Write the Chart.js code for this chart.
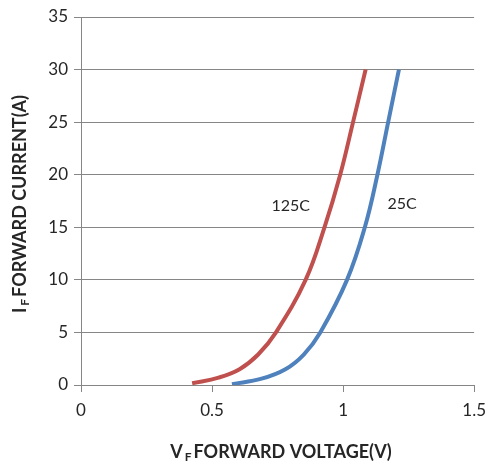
<!DOCTYPE html>
<html>
<head>
<meta charset="utf-8">
<script src="https://cdn.jsdelivr.net/npm/chart.js@4/dist/chart.umd.min.js"></script>
<style>
  html, body { margin: 0; padding: 0; background: #fff; }
  #wrap { width: 494px; height: 464px; }
</style>
</head>
<body>
<div id="wrap"><canvas id="chart" width="494" height="464"></canvas></div>
<script>
// forward voltage (V) / forward current (A)
const voltage125 = [0.424, 0.525, 0.605, 0.676, 0.744, 0.857, 0.929, 0.989, 1.038, 1.086];
const current125 = [0.16, 0.7, 1.5, 2.9, 5, 10, 15, 20, 25, 30];
const voltage25 = [0.576, 0.689, 0.780, 0.850, 0.913, 1.015, 1.083, 1.131, 1.172, 1.213];
const current25 = [0.08, 0.6, 1.5, 2.9, 5, 10, 15, 20, 25, 30];
const curveLabels = ["125C", "25C"];
const xTicks = [0, 0.5, 1, 1.5];
const yTicks = [0, 5, 10, 15, 20, 25, 30, 35];

const fontFamily = "Lato, 'Open Sans', sans-serif";
const textColor = "#262626";

function toPoints(xs, ys) {
  return xs.map((x, i) => ({ x: x, y: ys[i] }));
}

// axis titles with the subscript F, plus the curve labels
const annotations = {
  id: "annotations",
  afterDraw(chart) {
    const ctx = chart.ctx;
    const xs = chart.scales.x;
    const ys = chart.scales.y;
    ctx.save();
    ctx.fillStyle = textColor;
    ctx.textBaseline = "middle";

    // curve labels
    ctx.font = "16px " + fontFamily;
    ctx.textAlign = "center";
    ctx.fillText(curveLabels[0], xs.getPixelForValue(0.80), ys.getPixelForValue(17));
    ctx.fillText(curveLabels[1], xs.getPixelForValue(1.225), ys.getPixelForValue(17.2));

    function drawSubTitle(main, sub, rest, cx, cy) {
      const big = "bold 18px " + fontFamily;
      const small = "bold 12px " + fontFamily;
      ctx.font = big;
      const w1 = ctx.measureText(main).width;
      const w3 = ctx.measureText(rest).width;
      ctx.font = small;
      const w2 = ctx.measureText(sub).width;
      let x = cx - (w1 + w2 + 4 + w3) / 2;
      ctx.textAlign = "left";
      ctx.font = big;
      ctx.fillText(main, x, cy);
      x += w1 + 2;
      ctx.font = small;
      ctx.fillText(sub, x, cy + 5);
      x += w2 + 2;
      ctx.font = big;
      ctx.fillText(rest, x, cy);
    }

    drawSubTitle("V", "F", "FORWARD VOLTAGE(V)", 281, 452);

    ctx.translate(20, 204);
    ctx.rotate(-Math.PI / 2);
    drawSubTitle("I", "F", "FORWARD CURRENT(A)", 0, 0);
    ctx.restore();
  }
};

new Chart(document.getElementById("chart"), {
  type: "scatter",
  data: {
    datasets: [
      {
        label: curveLabels[0],
        data: toPoints(voltage125, current125),
        showLine: true,
        borderColor: "#C0504D",
        borderWidth: 4,
        pointRadius: 0,
        tension: 0.4
      },
      {
        label: curveLabels[1],
        data: toPoints(voltage25, current25),
        showLine: true,
        borderColor: "#4F81BD",
        borderWidth: 4,
        pointRadius: 0,
        tension: 0.4
      }
    ]
  },
  options: {
    responsive: false,
    animation: false,
    layout: { padding: { top: 17, right: 16, left: 0, bottom: 0 } },
    plugins: {
      legend: { display: false },
      tooltip: { enabled: false }
    },
    scales: {
      x: {
        type: "linear",
        min: 0,
        max: 1.5,
        afterBuildTicks: (scale) => { scale.ticks = xTicks.map(v => ({ value: v })); },
        afterFit: (scale) => { scale.height = 79; },
        grid: { drawOnChartArea: false, drawTicks: true, tickLength: 7, color: "#868686" },
        border: { color: "#868686", width: 1 },
        ticks: {
          color: textColor,
          font: { family: fontFamily, size: 17 },
          padding: 8,
          maxRotation: 0,
          callback: (value) => String(value)
        }
      },
      y: {
        type: "linear",
        min: 0,
        max: 35,
        afterBuildTicks: (scale) => { scale.ticks = yTicks.map(v => ({ value: v })); },
        afterFit: (scale) => { scale.width = 81; },
        grid: { color: "#868686", drawTicks: true, tickLength: 7 },
        border: { color: "#868686", width: 1 },
        ticks: {
          color: textColor,
          font: { family: fontFamily, size: 17 },
          padding: 6
        }
      }
    }
  },
  plugins: [annotations]
});
</script>
</body>
</html>
